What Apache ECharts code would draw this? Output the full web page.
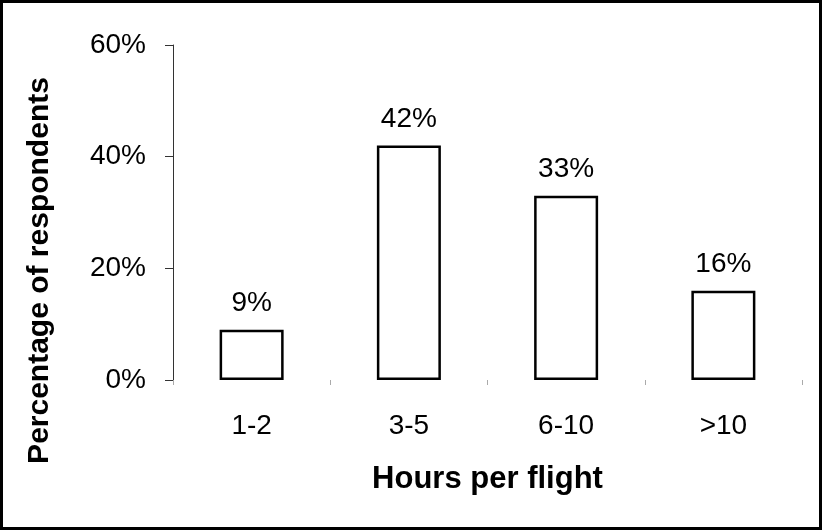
<!DOCTYPE html>
<html>
<head>
<meta charset="utf-8">
<script src="https://cdn.jsdelivr.net/npm/echarts@6/dist/echarts.min.js"></script>
<style>
  html, body { margin: 0; padding: 0; background: #fff; }
  #chart { width: 822px; height: 530px; }
</style>
</head>
<body>
<div id="chart"></div>
<script>
// Flight duration categories and share of respondents (%)
const categories = ['1-2', '3-5', '6-10', '>10'];
const shares = [9, 42, 33, 16];
const yTicks = { min: 0, max: 60, step: 20 };

const FONT = "'Liberation Sans', Arial, sans-serif";

const chart = echarts.init(document.getElementById('chart'), null, { renderer: 'canvas' });

chart.setOption({
  backgroundColor: '#fff',
  animation: false,
  graphic: [{
    type: 'rect',
    shape: { x: 1.5, y: 1.5, width: 819, height: 527 },
    style: { fill: 'none', stroke: '#000', lineWidth: 3 },
    silent: true
  }],
  grid: { left: 173, right: 20, top: 45, bottom: 150, containLabel: false },
  xAxis: {
    type: 'category',
    data: categories,
    name: 'Hours per flight',
    nameLocation: 'middle',
    nameGap: 84,
    nameTextStyle: { fontFamily: FONT, fontSize: 31, fontWeight: 'bold', color: '#000' },
    axisLine: { show: false },
    axisTick: { show: true, length: 5, lineStyle: { color: '#aaa', width: 1 } },
    axisLabel: { fontFamily: FONT, fontSize: 28, color: '#000', margin: 32 }
  },
  yAxis: {
    type: 'value',
    min: yTicks.min,
    max: yTicks.max,
    interval: yTicks.step,
    name: 'Percentage of respondents',
    nameLocation: 'middle',
    nameGap: 118,
    nameTextStyle: {
      fontFamily: FONT, fontSize: 30, fontWeight: 'bold', color: '#000',
      padding: [0, 116, 0, 0]
    },
    axisLine: { show: true, lineStyle: { color: '#333', width: 1 } },
    axisTick: { show: true, length: 8, lineStyle: { color: '#333', width: 1 } },
    splitLine: { show: false },
    axisLabel: { fontFamily: FONT, fontSize: 28, color: '#000', margin: 27, formatter: '{value}%' }
  },
  series: [{
    type: 'bar',
    data: shares,
    barWidth: 64,
    itemStyle: { color: '#fff', borderColor: '#000', borderWidth: 2.5 },
    label: {
      show: true,
      position: 'top',
      distance: 12,
      formatter: '{c}%',
      fontFamily: FONT,
      fontSize: 28,
      color: '#000'
    }
  }]
});
</script>
</body>
</html>
